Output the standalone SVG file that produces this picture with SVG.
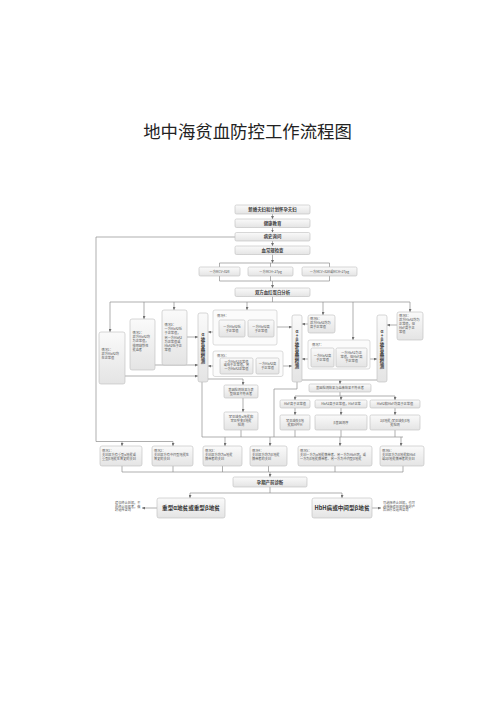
<svg xmlns="http://www.w3.org/2000/svg" width="496" height="702" viewBox="0 0 496 702">
<defs>
<linearGradient id="gr" x1="0" y1="0" x2="0" y2="1"><stop offset="0" stop-color="#fafafa"/><stop offset="1" stop-color="#e4e4e4"/></linearGradient>
<marker id="ar" viewBox="0 0 6 6" refX="6" refY="3" markerWidth="3" markerHeight="3" markerUnits="userSpaceOnUse" orient="auto"><path d="M0,0 L6,3 L0,6 z" fill="#6f6f6f"/></marker>
<style>
.bx{fill:url(#gr);stroke:#bdbdbd;stroke-width:.6}
.gp{fill:#fbfbfb;stroke:#c6c6c6;stroke-width:.6}
.t{font-family:"Noto Sans CJK SC","Noto Sans",sans-serif;font-size:3.2px;fill:#555}
.m{text-anchor:middle}
.hb{font-size:4.4px;font-weight:bold;fill:#404040}
.rs{font-size:5.6px;font-weight:bold;fill:#333}
.v{font-family:"Noto Sans CJK SC","Noto Sans",sans-serif;font-size:4.4px;font-weight:bold;fill:#404040;writing-mode:vertical-rl;text-orientation:upright;text-anchor:middle}
.c path{fill:none;stroke:#8c8c8c;stroke-width:.7}
.c .a{marker-end:url(#ar)}
</style>
</defs>
<rect width="496" height="702" fill="#fff"/>
<text x="247.5" y="137.5" text-anchor="middle" font-family="Noto Sans CJK SC, sans-serif" font-size="17.4" fill="#222">地中海贫血防控工作流程图</text>

<g class="c" id="connectors">
<path class="a" d="M272.5 214V219"/>
<path class="a" d="M272.5 227.5V232.5"/>
<path class="a" d="M272.5 241V246"/>
<path class="a" d="M272.5 254.5V263"/>
<path d="M219.5 267V263H329.5V267M270.5 263V267"/>
<path d="M219.5 276V281H329.5V276M270.5 276V281"/>
<path class="a" d="M272.5 281V288"/>
<path d="M272.5 296.5V302M110 302H410"/>
<path class="a" d="M110 302V332"/>
<path class="a" d="M144 302V319"/>
<path class="a" d="M174 302V310"/>
<path class="a" d="M247 302V310"/>
<path class="a" d="M323 302V315"/>
<path class="a" d="M353 302V340"/>
<path class="a" d="M410 302V312"/>
<path class="a" d="M235 237H96V441.5H173V446"/>
<path class="a" d="M122 441.5V446"/>
<path class="a" d="M187 337H198"/>
<path class="a" d="M155 365H198"/>
<path class="a" d="M125 376H198"/>
<path class="a" d="M219 332H208"/>
<path class="a" d="M220 366H208"/>
<path class="a" d="M274 327H292"/>
<path class="a" d="M279 366H292"/>
<path class="a" d="M308 324H302"/>
<path class="a" d="M311 359H302"/>
<path class="a" d="M367 359H377"/>
<path class="a" d="M397 325H387"/>
<path class="a" d="M208 379H243V385"/>
<path d="M202 382V437H403"/>
<path class="a" d="M225 437V446"/>
<path class="a" d="M270 437V446"/>
<path class="a" d="M340 437V446"/>
<path class="a" d="M401 437V446"/>
<path class="a" d="M243 398V412"/>
<path d="M241 430V437"/>
<path d="M302 380H377"/>
<path class="a" d="M340 380V384"/>
<path d="M297 382V389H274V437"/>
<path d="M340 392V396M295 396H395"/>
<path class="a" d="M295 396V400"/>
<path class="a" d="M341 396V400"/>
<path class="a" d="M395 396V400"/>
<path class="a" d="M295 408V415"/>
<path class="a" d="M341 408V415"/>
<path class="a" d="M395 408V415"/>
<path d="M295 430V437M341 430V437M395 430V437"/>
<path d="M122 466V472H403M173 466V472M222.5 466V472M268.5 466V472M335 466V472M403 466V472"/>
<path class="a" d="M270 472V477"/>
<path class="a" d="M270 487V493H190V498"/>
<path class="a" d="M270 493H342V498"/>
<path class="a" d="M157 508H142"/>
<path class="a" d="M372 508H381"/>
</g>

<g id="n-start"><rect class="bx" x="235" y="205" width="75" height="9" rx="1.5"/><text class="t hb m" x="272.5" y="211">新婚夫妇和计划怀孕夫妇</text></g>
<g id="n-edu"><rect class="bx" x="235" y="219" width="75" height="8.5" rx="1.5"/><text class="t hb m" x="272.5" y="224.8">健康教育</text></g>
<g id="n-history"><rect class="bx" x="235" y="232.5" width="75" height="8.5" rx="1.5"/><text class="t hb m" x="272.5" y="238.3">病史询问</text></g>
<g id="n-blood"><rect class="bx" x="235" y="246" width="75" height="8.5" rx="1.5"/><text class="t hb m" x="272.5" y="251.8">血常规检查</text></g>
<g id="n-mcv"><rect class="bx" x="199" y="267" width="41" height="9" rx="1.5"/><text class="t m" x="219.5" y="272.6">一方MCV&lt;82fl</text></g>
<g id="n-mch"><rect class="bx" x="248" y="267" width="45" height="9" rx="1.5"/><text class="t m" x="270.5" y="272.6">一方MCH&lt;27pg</text></g>
<g id="n-both"><rect class="bx" x="302" y="267" width="55" height="9" rx="1.5"/><text class="t m" x="329.5" y="272.6">一方MCV&lt;82fl或MCH&lt;27pg</text></g>
<g id="n-hb"><rect class="bx" x="235" y="288" width="75" height="8.5" rx="1.5"/><text class="t hb m" x="272.5" y="293.8">双方血红蛋白分析</text></g>

<g id="n-c1"><rect class="bx" x="99" y="332" width="26" height="52" rx="2"/><text class="t" x="101.5" y="351"><tspan x="101.5">情况1：</tspan><tspan x="101.5" dy="4.2">双方HbA2均</tspan><tspan x="101.5" dy="4.2">在正常值</tspan></text></g>
<g id="n-c2"><rect class="bx" x="130" y="319" width="25" height="51" rx="2"/><text class="t" x="132.5" y="334"><tspan x="132.5">情况2：</tspan><tspan x="132.5" dy="4.2">双方HbA2均</tspan><tspan x="132.5" dy="4.2">为正常值，</tspan><tspan x="132.5" dy="4.2">排除缺铁性</tspan><tspan x="132.5" dy="4.2">贫血者</tspan></text></g>
<g id="n-c3"><rect class="bx" x="162" y="310" width="25" height="55" rx="2"/><text class="t" x="164.5" y="326"><tspan x="164.5">情况3：</tspan><tspan x="164.5" dy="4.2">一方HbA2低</tspan><tspan x="164.5" dy="4.2">于正常值，</tspan><tspan x="164.5" dy="4.2">另一方HbA2</tspan><tspan x="164.5" dy="4.2">为正常值或</tspan><tspan x="164.5" dy="4.2">HbA2低于正</tspan><tspan x="164.5" dy="4.2">常值</tspan></text></g>

<g id="n-alpha"><rect class="bx" x="198" y="313" width="10" height="69" rx="2"/><text class="v" x="203" y="348">α地贫基因检测</text></g>

<g id="n-c4"><rect class="gp" x="213" y="310" width="64" height="35" rx="2"/><text class="t" x="217" y="316.5">情况4：</text>
<rect class="bx" x="219" y="320" width="26" height="17" rx="1.5"/><text class="t m" x="232" y="327.5"><tspan x="232">一方HbA2低</tspan><tspan x="232" dy="4">于正常值</tspan></text>
<rect class="bx" x="248" y="320" width="26" height="17" rx="1.5"/><text class="t m" x="261" y="327.5"><tspan x="261">一方HbA2高</tspan><tspan x="261" dy="4">于正常值</tspan></text></g>

<g id="n-c5"><rect class="gp" x="213" y="351" width="70" height="25.5" rx="2"/><text class="t" x="217" y="356.5">情况5：</text>
<rect class="bx" x="220" y="358" width="33" height="16" rx="1.5"/><text class="t m" x="236.5" y="362.5"><tspan x="236.5">一方HbA2正常值</tspan><tspan x="236.5" dy="3.8">或低于正常值，另</tspan><tspan x="236.5" dy="3.8">一方HbA2正常值</tspan></text>
<rect class="bx" x="256" y="358" width="23" height="16" rx="1.5"/><text class="t m" x="267.5" y="365"><tspan x="267.5">一方HbA2高</tspan><tspan x="267.5" dy="4">于正常值</tspan></text></g>

<g id="n-ab"><rect class="bx" x="292" y="315" width="10" height="67" rx="2"/><text class="v" x="297" y="348.5">α+β地贫基因检测</text></g>

<g id="n-c6"><rect class="bx" x="308" y="315" width="27" height="18" rx="2"/><text class="t" x="310" y="319.5"><tspan x="310">情况6：</tspan><tspan x="310" dy="4">双方HbA2均为</tspan><tspan x="310" dy="4">高于正常值</tspan></text></g>

<g id="n-c7"><rect class="gp" x="308" y="340" width="62" height="29" rx="2"/><text class="t" x="312" y="345.5">情况7：</text>
<rect class="bx" x="311" y="348" width="23" height="19" rx="1.5"/><text class="t m" x="322.5" y="356.5"><tspan x="322.5">一方HbA2高</tspan><tspan x="322.5" dy="4">于正常值</tspan></text>
<rect class="bx" x="336" y="348" width="31" height="19" rx="1.5"/><text class="t m" x="351.5" y="353.5"><tspan x="351.5">一方HbA2为正</tspan><tspan x="351.5" dy="4">常值，但HbF高</tspan><tspan x="351.5" dy="4">于正常值</tspan></text></g>

<g id="n-beta"><rect class="bx" x="377" y="315" width="10" height="67" rx="2"/><text class="v" x="382" y="348.5">α+β地贫基因检测</text></g>

<g id="n-c8"><rect class="bx" x="397" y="312" width="26" height="28" rx="2"/><text class="t" x="399" y="317"><tspan x="399">情况8：</tspan><tspan x="399" dy="4">双方HbA2均为</tspan><tspan x="399" dy="4">正常值，但</tspan><tspan x="399" dy="4">HbF高于正</tspan><tspan x="399" dy="4">常值</tspan></text></g>

<g id="n-mis1"><rect class="bx" x="224" y="385" width="34" height="13" rx="1.5"/><text class="t m" x="241" y="390.5"><tspan x="241">基因检测结果与表</tspan><tspan x="241" dy="4">型结果不符合者</tspan></text></g>
<g id="n-rare1"><rect class="bx" x="224" y="412" width="34" height="18" rx="1.5"/><text class="t m" x="241" y="417.5"><tspan x="241">罕见缺失α地贫和</tspan><tspan x="241" dy="4">罕见突变β地贫</tspan><tspan x="241" dy="4">检测</tspan></text></g>

<g id="n-mis2"><rect class="bx" x="309" y="384" width="62" height="8" rx="1.5"/><text class="t m" x="340" y="389.2">基因检测结果与血液结果不符合者</text></g>
<g id="n-r1"><rect class="bx" x="280" y="400" width="30" height="8" rx="1.5"/><text class="t m" x="295" y="405.2">HbF高于正常值</text></g>
<g id="n-r2"><rect class="bx" x="315" y="400" width="52" height="8" rx="1.5"/><text class="t m" x="341" y="405.2">HbA2高于正常值，HbF正常</text></g>
<g id="n-r3"><rect class="bx" x="370" y="400" width="50" height="8" rx="1.5"/><text class="t m" x="395" y="405.2">HbA2和HbF均高于正常值</text></g>
<g id="n-s1"><rect class="bx" x="280" y="415" width="30" height="15" rx="1.5"/><text class="t m" x="295" y="421.5"><tspan x="295">罕见缺失β地</tspan><tspan x="295" dy="4">贫和HPFH</tspan></text></g>
<g id="n-s2"><rect class="bx" x="315" y="415" width="52" height="15" rx="1.5"/><text class="t m" x="341" y="423.5">β基因测序</text></g>
<g id="n-s3"><rect class="bx" x="370" y="415" width="50" height="15" rx="1.5"/><text class="t m" x="395" y="421.5"><tspan x="395">δβ地贫/罕见缺失β地</tspan><tspan x="395" dy="4">贫检测</tspan></text></g>

<g id="n-b1"><rect class="bx" x="100" y="446" width="42" height="20" rx="2"/><text class="t" x="102" y="451.5"><tspan x="102">情况1：</tspan><tspan x="102" dy="4">夫妇双方有重型α地贫或</tspan><tspan x="102" dy="4">重型β地贫生育史的夫妇</tspan></text></g>
<g id="n-b2"><rect class="bx" x="152" y="446" width="41" height="20" rx="2"/><text class="t" x="154" y="451.5"><tspan x="154">情况2：</tspan><tspan x="154" dy="4">夫妇双方有中间型地贫生</tspan><tspan x="154" dy="4">育史的夫妇</tspan></text></g>
<g id="n-b3"><rect class="bx" x="203" y="446" width="39" height="20" rx="2"/><text class="t" x="205" y="451.5"><tspan x="205">情况3：</tspan><tspan x="205" dy="4">夫妇双方均为α地贫</tspan><tspan x="205" dy="4">携带者的夫妇</tspan></text></g>
<g id="n-b4"><rect class="bx" x="250" y="446" width="37" height="20" rx="2"/><text class="t" x="252" y="451.5"><tspan x="252">情况4：</tspan><tspan x="252" dy="4">夫妇双方均为β地贫</tspan><tspan x="252" dy="4">携带者的夫妇</tspan></text></g>
<g id="n-b5"><rect class="bx" x="298" y="446" width="74" height="20" rx="2"/><text class="t" x="300" y="451.5"><tspan x="300">情况5：</tspan><tspan x="300" dy="4">夫妇一方为α地贫携带者、另一方为HbH病，或</tspan><tspan x="300" dy="4">一方为β地贫携带者、另一方为中间型β地贫</tspan></text></g>
<g id="n-b6"><rect class="bx" x="380" y="446" width="44" height="20" rx="2"/><text class="t" x="382" y="451.5"><tspan x="382">情况6：</tspan><tspan x="382" dy="4">夫妇双方为β地贫和HbE</tspan><tspan x="382" dy="4">或δβ地贫携带者的夫妇</tspan></text></g>

<g id="n-prenatal"><rect class="bx" x="233" y="477" width="74" height="10" rx="1.5"/><text class="t hb m" x="270" y="483.5">孕期产前诊断</text></g>
<g id="n-severe"><rect class="bx" x="157" y="498" width="68" height="20" rx="2"/><text class="t rs m" x="191" y="510">重型α地贫或重型β地贫</text></g>
<g id="n-hbh"><rect class="bx" x="312" y="498" width="60" height="20" rx="2"/><text class="t rs m" x="342" y="510">HbH病或中间型β地贫</text></g>
<g id="n-note1"><text class="t" x="115" y="504" font-size="2.7"><tspan x="115">建议终止妊娠，不</tspan><tspan x="115" dy="3.5">愿终止妊娠者，做</tspan><tspan x="115" dy="3.5">好遗传咨询</tspan></text></g>
<g id="n-note2"><text class="t" x="383" y="504" font-size="2.7"><tspan x="383">可选择终止妊娠，也可</tspan><tspan x="383" dy="3.5">选择继续妊娠并做好产</tspan><tspan x="383" dy="3.5">后治疗及遗传咨询</tspan></text></g>
</svg>
